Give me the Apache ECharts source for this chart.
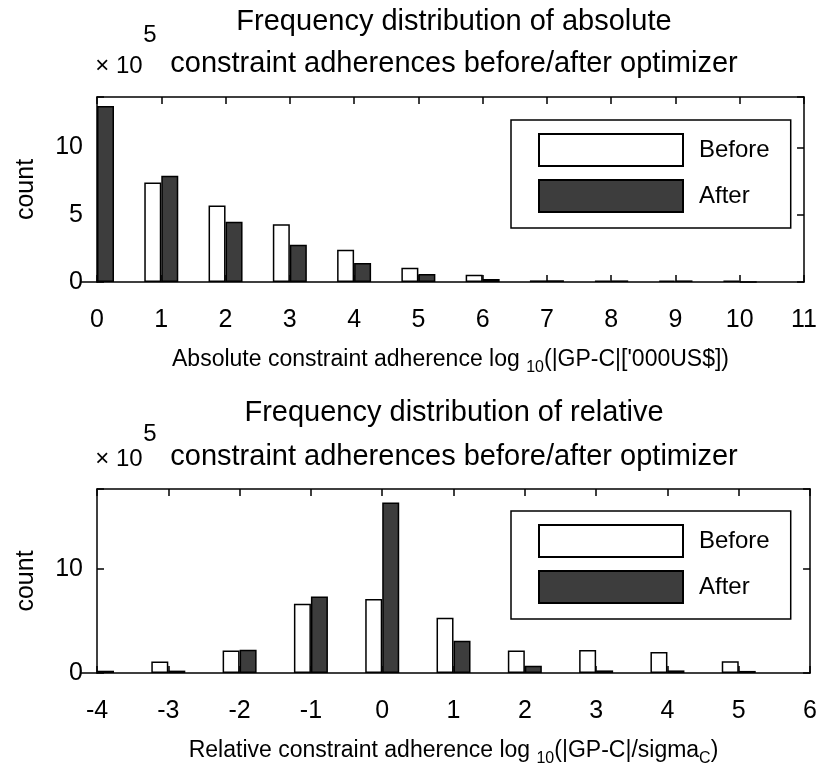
<!DOCTYPE html>
<html>
<head>
<meta charset="utf-8">
<title>Frequency distribution of constraint adherences</title>
<script src="https://cdn.jsdelivr.net/npm/echarts@6/dist/echarts.min.js"></script>
<style>
  html, body { margin: 0; padding: 0; background: #fff; }
  #chart { width: 820px; height: 771px; }
</style>
</head>
<body>
<div id="chart"></div>
<script>
// counts are in units of 10^5 (see the "x 10^5" tag on each plot)

// top plot: absolute adherence, log10(|GP-C| ['000 US$])
var absBins   = [0, 1, 2, 3, 4, 5, 6, 7, 8, 9, 10];
var absBefore = [0, 7.39, 5.68, 4.30, 2.40, 1.05, 0.54, 0.12, 0.11, 0.11, 0.10];
var absAfter  = [13.08, 7.89, 4.47, 2.77, 1.41, 0.60, 0.23, 0.13, 0.12, 0.12, 0];
var absXRange = [0, 11];
var absYMax   = 13.75;
var absYStep  = 5;

// bottom plot: relative adherence, log10(|GP-C|/sigma_C)
var relBins   = [-4, -3, -2, -1, 0, 1, 2, 3, 4, 5];
var relBefore = [0, 1.10, 2.17, 6.66, 7.11, 5.32, 2.17, 2.21, 2.02, 1.12];
var relAfter  = [0.22, 0.23, 2.24, 7.37, 16.4, 3.10, 0.70, 0.25, 0.25, 0.20];
var relXRange = [-4, 6];
var relYMax   = 17.7;
var relYStep  = 10;

var seriesNames = ['Before', 'After'];

var FONT = "'Liberation Sans', Arial, sans-serif";
var BLACK = '#000';
var DARK = '#3d3d3d';

function pairs(xs, ys) {
    var out = [];
    for (var i = 0; i < xs.length; i++) {
        out.push([xs[i], ys[i]]);
    }
    return out;
}

function xAxisFor(grid, range, pos, withName, nameRich) {
    var ax = {
        type: 'value',
        gridIndex: grid,
        position: pos,
        min: range[0],
        max: range[1],
        interval: 1,
        splitLine: { show: false },
        axisLine: { show: true, onZero: false, lineStyle: { color: BLACK, width: 1.5 } },
        axisTick: { show: true, inside: true, length: 7, lineStyle: { color: BLACK, width: 1.5 } },
        axisLabel: { show: pos === 'bottom', margin: 26, color: BLACK, fontSize: 25, fontFamily: FONT }
    };
    if (withName) {
        ax.name = withName;
        ax.nameLocation = 'middle';
        ax.nameGap = 66;
        ax.nameTextStyle = {
            color: BLACK, fontSize: 23, fontFamily: FONT,
            rich: nameRich
        };
    }
    return ax;
}

function yAxisFor(grid, ymax, step, pos) {
    return {
        type: 'value',
        gridIndex: grid,
        position: pos,
        min: 0,
        max: ymax,
        interval: step,
        name: pos === 'left' ? 'count' : '',
        nameLocation: 'middle',
        nameGap: 58,
        nameTextStyle: { color: BLACK, fontSize: 25, fontFamily: FONT },
        splitLine: { show: false },
        axisLine: { show: true, onZero: false, lineStyle: { color: BLACK, width: 1.5 } },
        axisTick: { show: true, inside: true, length: 7, lineStyle: { color: BLACK, width: 1.5 } },
        axisLabel: {
            show: pos === 'left', margin: 14, color: BLACK, fontSize: 25, fontFamily: FONT,
            formatter: function (v) { return (Math.abs(v % step) < 1e-9) ? String(v) : ''; }
        }
    };
}

function barSeries(name, grid, xs, ys, color) {
    return {
        name: name,
        type: 'bar',
        xAxisIndex: grid * 2,
        yAxisIndex: grid * 2,
        data: pairs(xs, ys),
        barWidth: 17,
        barGap: '0%',
        itemStyle: { color: color, borderColor: BLACK, borderWidth: 1.5 }
    };
}

function legendAt(top) {
    return {
        orient: 'vertical',
        left: 511,
        top: top,
        data: seriesNames,
        selectedMode: false,
        icon: 'rect',
        itemWidth: 144,
        itemHeight: 32,
        itemGap: 12,
        padding: [13, 21, 15, 27],
        borderColor: BLACK,
        borderWidth: 1.5,
        backgroundColor: '#fff',
        textStyle: { color: BLACK, fontSize: 24, fontFamily: FONT, padding: [8, 0, 0, 11] }
    };
}

function label(text, x, y, size) {
    return {
        type: 'text',
        x: x,
        y: y,
        style: {
            text: text, fill: BLACK, fontSize: size, fontFamily: FONT,
            align: 'center', verticalAlign: 'middle'
        }
    };
}

var subRich = {
    t: { fontSize: 23, fontFamily: FONT, color: BLACK, verticalAlign: 'top', lineHeight: 30 },
    s: { fontSize: 16, fontFamily: FONT, color: BLACK, verticalAlign: 'top', lineHeight: 30, padding: [12, 0, 0, 0] }
};

var myChart = echarts.init(document.getElementById('chart'), null, { renderer: 'canvas' });

var option = {
    backgroundColor: '#fff',
    animation: false,
    grid: [
        { left: 97, top: 97, width: 715, height: 185 },
        { left: 97, top: 489, width: 715, height: 184 }
    ],
    xAxis: [
        xAxisFor(0, absXRange, 'bottom',
            "{t|Absolute constraint adherence log }{s|10}{t|(|GP-C|['000US$])}", subRich),
        xAxisFor(0, absXRange, 'top'),
        xAxisFor(1, relXRange, 'bottom',
            "{t|Relative constraint adherence log }{s|10}{t|(|GP-C|/sigma}{s|C}{t|)}", subRich),
        xAxisFor(1, relXRange, 'top')
    ],
    yAxis: [
        yAxisFor(0, absYMax, absYStep, 'left'),
        yAxisFor(0, absYMax, absYStep, 'right'),
        yAxisFor(1, relYMax, relYStep, 'left'),
        yAxisFor(1, relYMax, relYStep, 'right')
    ],
    legend: [legendAt(120), legendAt(511)],
    graphic: [
        label('Frequency distribution of absolute', 454, 22, 29),
        label('constraint adherences before/after optimizer', 454, 64, 29),
        label('\u00d7 10', 119, 66, 24),
        label('5', 150, 35, 24),
        label('Frequency distribution of relative', 454, 413, 29),
        label('constraint adherences before/after optimizer', 454, 457, 29),
        label('\u00d7 10', 119, 459, 24),
        label('5', 150, 434, 24)
    ],
    series: [
        barSeries('Before', 0, absBins, absBefore, '#fff'),
        barSeries('After', 0, absBins, absAfter, DARK),
        barSeries('Before', 1, relBins, relBefore, '#fff'),
        barSeries('After', 1, relBins, relAfter, DARK)
    ]
};

myChart.setOption(option);
</script>
</body>
</html>
